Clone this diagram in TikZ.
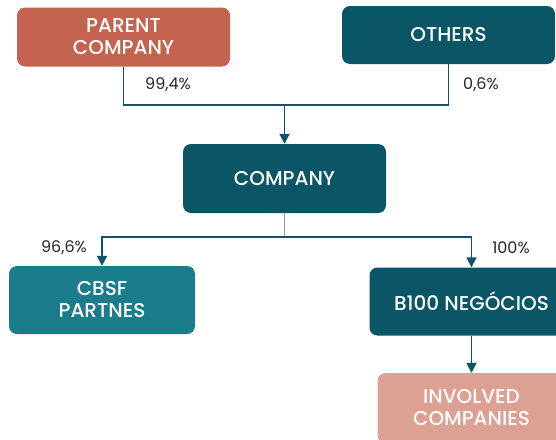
\documentclass[tikz,border=0pt]{standalone}
\usepackage{fontspec}
\setmainfont{Poppins}
\newfontfamily\medfont{Poppins Medium}
\usetikzlibrary{arrows.meta}
\definecolor{coral}{RGB}{196,100,80}
\definecolor{darkteal}{RGB}{11,86,102}
\definecolor{midteal}{RGB}{27,125,140}
\definecolor{pinkish}{RGB}{220,161,147}
\definecolor{lightblue}{RGB}{130,160,215}
\begin{document}
\begin{tikzpicture}[x=1pt,y=-1pt,
  box/.style={rectangle,rounded corners=8pt,draw=none,text=white,align=center,
    font=\medfont\fontsize{20}{22}\selectfont,inner sep=0pt},
  conn/.style={draw=darkteal,line width=1.8pt},
  tip/.style={-{Triangle[width=10pt,length=10pt]}},
  pct/.style={font=\fontsize{16}{18}\selectfont,text=black!85,inner sep=0pt}]
\useasboundingbox (0,0) rectangle (556,439);
\clip (0,0) rectangle (556,439);
\node[box,fill=coral,minimum width=213pt,minimum height=59pt] (parent) at (123.5,37) {PARENT\\COMPANY};
\node[box,fill=darkteal,minimum width=213pt,minimum height=58pt] (others) at (448.5,35) {OTHERS};
\node[box,fill=darkteal,minimum width=203pt,minimum height=69pt] (company) at (284.5,178.5) {COMPANY};
\node[box,fill=midteal,minimum width=186pt,minimum height=68pt] (cbsf) at (102,300) {CBSF\\PARTNES};
\node[box,fill=darkteal,minimum width=204pt,minimum height=68pt] (b100) at (471.5,301.5) {B100 NEGÓCIOS};
\node[box,fill=pinkish,minimum width=188pt,minimum height=70pt] (involved) at (471.5,408) {INVOLVED\\COMPANIES};
\coordinate (j1) at (284.5,105);
\coordinate (j2) at (284.5,237);
\draw[conn] (parent.south) |- (j1) -| (others.south);
\draw[conn,tip] (j1) -- (company.north);
\draw[draw=lightblue,line width=1pt] (company.south) -- (j2);
\draw[conn,tip] (j2) -| (cbsf.north);
\draw[conn,tip] (j2) -| (b100.north);
\draw[conn,tip] (b100.south) -- (involved.north);
\node[pct] (l1) at (168,85) {99,4\%};
\node[pct] (l2) at (481,85) {0,6\%};
\node[pct] (l3) at (64,248) {96,6\%};
\node[pct] (l4) at (511,248) {100\%};
\end{tikzpicture}
\end{document}
